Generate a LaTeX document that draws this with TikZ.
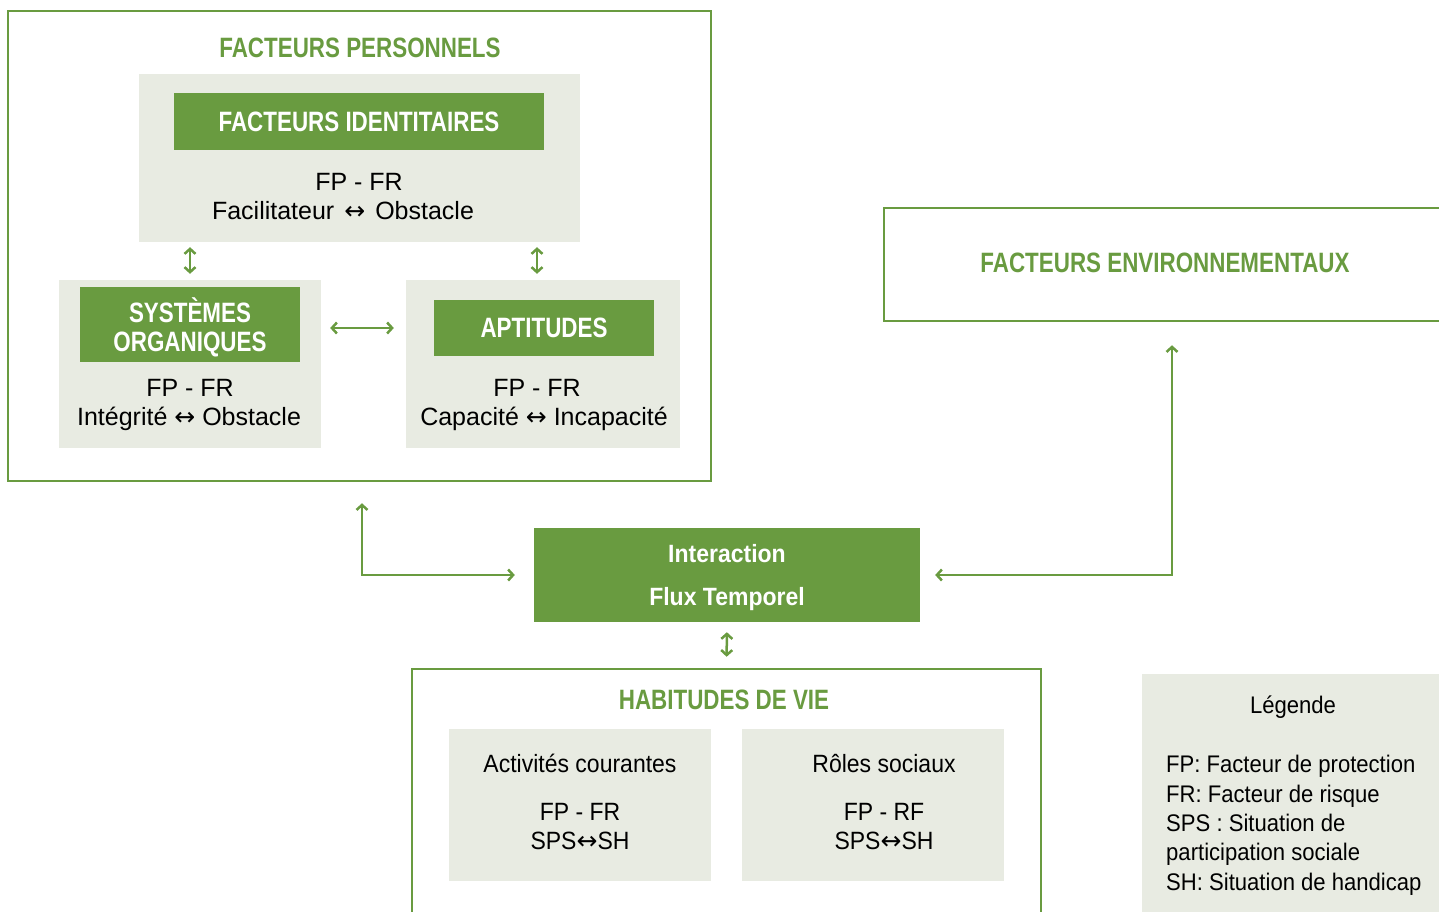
\documentclass[tikz,border=0pt]{standalone}
\usepackage{fontspec}
\setmainfont{Liberation Sans}[FakeStretch=0.92]
\newfontfamily\headfont{Liberation Sans}[FakeStretch=0.8]
\newfontfamily\widefont{Liberation Sans}
\newfontfamily\symfont{DejaVu Sans}
\newcommand\bothway{{\symfont ↔}}
\usepackage{tikz}
\usetikzlibrary{arrows.meta, positioning}

\definecolor{leafgreen}{HTML}{699B40}
\definecolor{sagegray}{HTML}{E8EBE2}

\begin{document}
\begin{tikzpicture}[
                x=1pt, y=-1pt,
                frame/.style={draw=leafgreen, line width=2.5pt, inner sep=0pt}, % outlined groups
                panel/.style={fill=sagegray, inner sep=0pt}, % grey cards
                badge/.style={fill=leafgreen, text=white, inner sep=0pt, align=center, font=\headfont\bfseries\fontsize{28}{29}\selectfont},
                heading/.style={text=leafgreen, anchor=base, font=\headfont\bfseries\fontsize{28}{29}\selectfont},
                body/.style={anchor=base, inner sep=0pt, font=\fontsize{25}{29}\selectfont},
                widebody/.style={body, font=\widefont\fontsize{25}{29}\selectfont}, % upper cards
                legendline/.style={anchor=base west, inner sep=0pt, font=\fontsize{24}{29}\selectfont},
                link/.style={draw=leafgreen, line width=2.5pt, {Straight Barb[length=5pt,width=11pt]}-{Straight Barb[length=5pt,width=11pt]}}
                ]
                \useasboundingbox (0,0) rectangle (1439,911);

                % facteurs personnels
                \node[frame, minimum width=703pt, minimum height=470pt] (perso) at (359.5,246) {};
                \node[heading] (persoT) at (360,57) {FACTEURS PERSONNELS};

                \node[panel, minimum width=441pt, minimum height=168pt] (ident) at (359.5,158) {};
                \node[badge, minimum width=370pt, minimum height=57pt] (identT) at (359,121.5) {FACTEURS IDENTITAIRES};
                \node[widebody] (identFP) at (359,190) {FP - FR};
                \node[widebody] (identTxt) at (343,219) {Facilitateur\hspace{10pt}\bothway\hspace{10pt}Obstacle};

                \node[panel, minimum width=262pt, minimum height=168pt] (sysorg) at (190,364) {};
                \node[badge, minimum width=220pt, minimum height=75pt, text depth=0pt] (sysorgT) at (190,324.5) {SYSTÈMES\\ORGANIQUES};
                \node[widebody] (sysorgFP) at (190,396) {FP - FR};
                \node[widebody] (sysorgTxt) at (189,425) {Intégrité \bothway{} Obstacle};

                \node[panel, minimum width=274pt, minimum height=168pt] (apt) at (543,364) {};
                \node[badge, minimum width=220pt, minimum height=56pt] (aptT) at (544,328) {APTITUDES};
                \node[widebody] (aptFP) at (537,396) {FP - FR};
                \node[widebody] (aptTxt) at (544,425) {Capacité \bothway{} Incapacité};

                % facteurs environnementaux
                \node[frame, minimum width=576pt, minimum height=113pt] (env) at (1172,264.5) {};
                \node[heading] (envT) at (1165,272) {FACTEURS ENVIRONNEMENTAUX};

                % interaction
                \node[badge, minimum width=386pt, minimum height=94pt, text depth=0pt, font=\bfseries\fontsize{25}{43}\selectfont] (inter) at (727,575) {Interaction\\Flux Temporel};

                % habitudes de vie
                \node[frame, minimum width=629pt, minimum height=261pt] (habit) at (726.5,799.5) {};
                \node[heading] (habitT) at (724,709) {HABITUDES DE VIE};

                \node[panel, minimum width=262pt, minimum height=152pt] (act) at (580,805) {};
                \node[body] (actT) at (580,772) {Activités courantes};
                \node[body] (actFP) at (580,820) {FP - FR};
                \node[body] (actTxt) at (580,849) {SPS\bothway SH};

                \node[panel, minimum width=262pt, minimum height=152pt] (roles) at (873,805) {};
                \node[body] (rolesT) at (884,772) {Rôles sociaux};
                \node[body] (rolesFP) at (884,820) {FP - RF};
                \node[body] (rolesTxt) at (884,849) {SPS\bothway SH};

                % legende
                \node[panel, minimum width=303pt, minimum height=241pt] (legend) at (1293.5,794.5) {};
                \node[body, font=\fontsize{24}{29}\selectfont] (legendT) at (1293,713) {Légende};
                \node[legendline] (legFP) at (1166,772) {FP: Facteur de protection};
                \node[legendline] (legFR) at (1166,802) {FR: Facteur de risque};
                \node[legendline] (legSPS) at (1166,831) {SPS : Situation de};
                \node[legendline] (legSPSb) at (1166,860) {participation sociale};
                \node[legendline] (legSH) at (1166,890) {SH: Situation de handicap};

                % connecteurs
                \draw[link, shorten <=5pt, shorten >=6pt] (ident.south -| sysorg.north) -- (sysorg.north);
                \draw[link, shorten <=5pt, shorten >=6pt] (ident.south -| aptFP.base) -- (apt.north -| aptFP.base);
                \draw[link, shorten <=9pt, shorten >=12pt] (sysorg.east |- aptT.west) -- (apt.west |- aptT.west);
                \draw[link, shorten <=21pt, shorten >=19pt] ([xshift=2.5pt]perso.south) |- (inter.west);
                \draw[link, shorten <=23pt, shorten >=15pt] (env.south) |- (inter.east);
                \draw[link, shorten <=10pt, shorten >=11pt] (inter.south) -- (habit.north);
\end{tikzpicture}
\end{document}
